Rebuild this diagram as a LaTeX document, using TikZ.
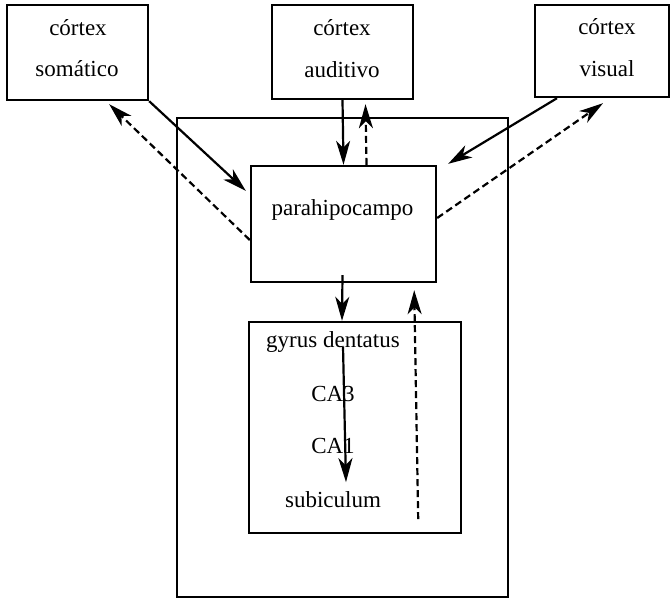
\documentclass[tikz,border=0pt]{standalone}
\usepackage{fontspec}
\setmainfont{Liberation Serif}
\usetikzlibrary{arrows.meta,calc}
\begin{document}
\begin{tikzpicture}[x=1pt,y=-1pt,
  box/.style={draw,line width=2.4pt,inner sep=0pt},
  lbl/.style={anchor=base,inner sep=0pt,font=\fontsize{23}{27}\selectfont},
  arr/.style={line width=2.2pt,-{Stealth[length=24pt,width=14pt,inset=7pt]}},
  darr/.style={arr,dash pattern=on 7pt off 4pt}]
\useasboundingbox (0,0) rectangle (670,600);
% boxes
\node[box,minimum width=141pt,minimum height=95pt] (som) at (77.5,52.5) {};
\node[box,minimum width=141pt,minimum height=94pt] (aud) at (342.5,52) {};
\node[box,minimum width=134pt,minimum height=92pt] (vis) at (602,51) {};
\node[box,minimum width=331pt,minimum height=479pt] (outer) at (342.5,357.5) {};
\node[box,fill=white,minimum width=185pt,minimum height=116pt] (para) at (343.5,224) {};
\node[box,minimum width=212pt,minimum height=211pt] (inner) at (355,427.5) {};
% labels
\node[lbl] (som1) at (78,35) {córtex};
\node[lbl] (som2) at (77,76) {somático};
\node[lbl] (aud1) at (342,35) {córtex};
\node[lbl] (aud2) at (342,77) {auditivo};
\node[lbl] (vis1) at (607,34) {córtex};
\node[lbl] (vis2) at (607,76) {visual};
\node[lbl] (paral) at (342.5,215) {parahipocampo};
\node[lbl] (gd) at (333,347) {gyrus dentatus};
\node[lbl] (ca3) at (333,401) {CA3};
\node[lbl] (ca1) at (333,453) {CA1};
\node[lbl] (sub) at (333,507) {subiculum};
% connectors
\draw[arr] (som.south east) -- ($(para.north west)+(-4,26)$);
\draw[darr] ($(para.west)+(0,16)$) -- ($(som.south east)+(-40,3)$);
\draw[arr] (aud.south) -- (para.north);
\draw[darr] ($(para.north)+(23,0)$) -- ($(aud.south)+(23,4)$);
\draw[arr] ($(vis.south)+(-45,0)$) -- ($(para.north east)+(11,-1)$);
\draw[darr] ($(para.east)+(0,-6)$) -- ($(vis.south)+(1,5)$);
\draw[arr] ($(para.south)+(-1,-8)$) -- ($(inner.north)+(-13,0)$);
\draw[darr] ($(inner.south east)+(-44,-15)$) -- ($(para.south east)+(-23,7)$);
\draw[arr] ($(gd)+(10,5)$) -- ($(sub)+(13,-17)$);
\end{tikzpicture}
\end{document}
